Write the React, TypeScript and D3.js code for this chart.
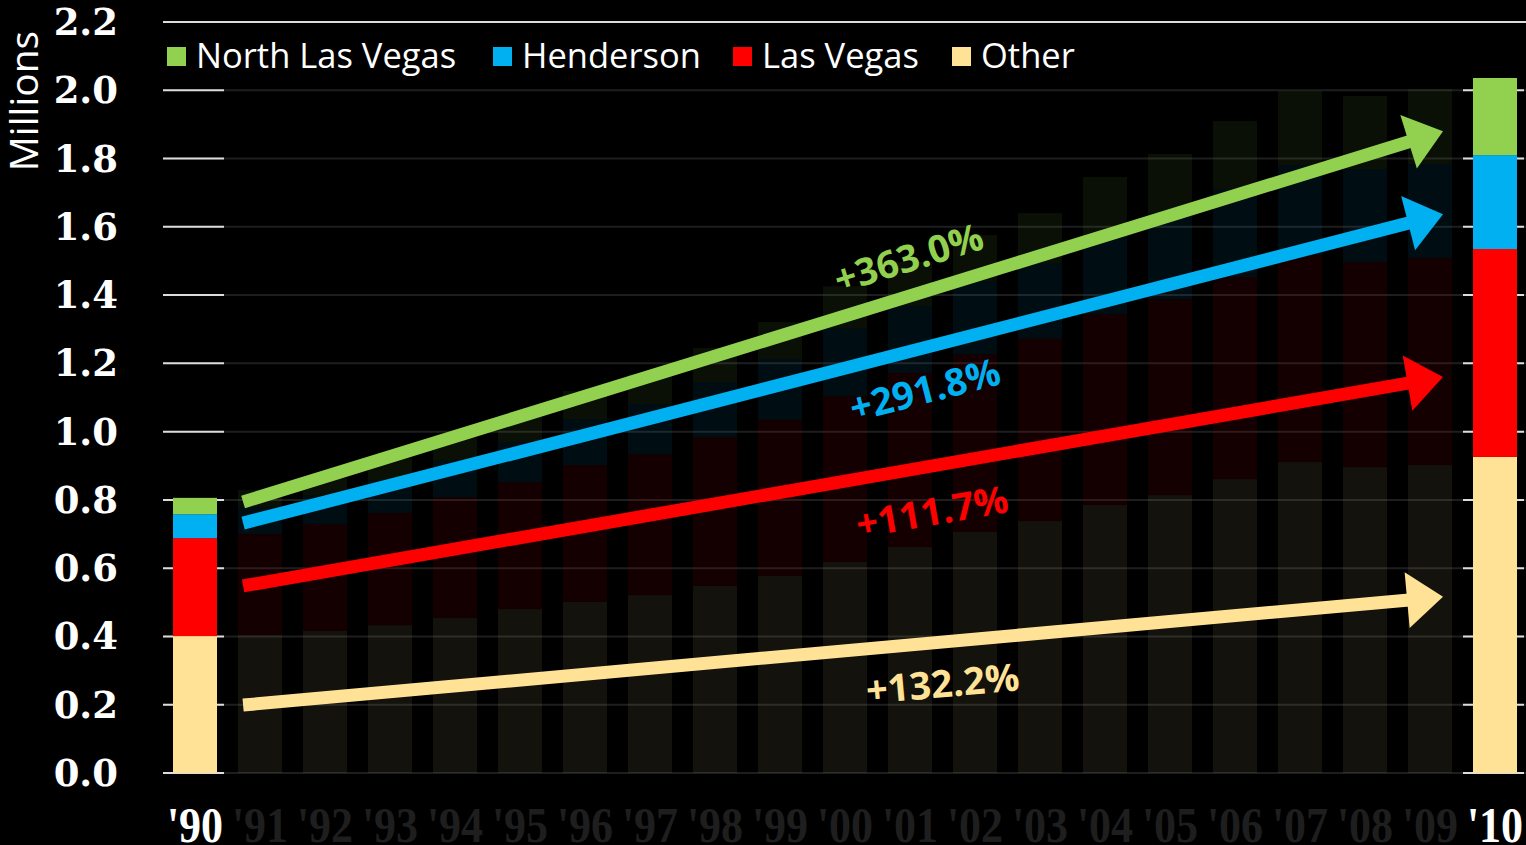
import React from 'react';
import * as d3 from 'd3';

const years = ['90','91','92','93','94','95','96','97','98','99','00','01','02','03','04','05','06','07','08','09','10'];
const other =         [0.401,0.404,0.416,0.433,0.454,0.480,0.501,0.521,0.548,0.577,0.618,0.662,0.706,0.738,0.785,0.814,0.861,0.911,0.896,0.902,0.926];
const lasVegas =      [0.287,0.296,0.313,0.329,0.354,0.372,0.401,0.413,0.436,0.458,0.486,0.510,0.521,0.535,0.559,0.574,0.592,0.606,0.601,0.607,0.609];
const henderson =     [0.070,0.079,0.085,0.096,0.109,0.118,0.135,0.147,0.161,0.178,0.199,0.196,0.214,0.220,0.226,0.252,0.258,0.264,0.272,0.275,0.275];
const northLasVegas = [0.048,0.050,0.050,0.065,0.065,0.074,0.082,0.088,0.100,0.108,0.123,0.129,0.135,0.147,0.176,0.174,0.199,0.217,0.214,0.220,0.226];
const highlighted = ['90','10'];
const yTicks = [0,0.2,0.4,0.6,0.8,1.0,1.2,1.4,1.6,1.8,2.0,2.2];

const seriesKeys = ['other','lasVegas','henderson','northLasVegas'];
const seriesColors: Record<string,string> = { other:'#FFE296', lasVegas:'#FF0000', henderson:'#00B0F0', northLasVegas:'#92D050' };
const legendItems = [
  { key:'northLasVegas', label:'North Las Vegas' },
  { key:'henderson', label:'Henderson' },
  { key:'lasVegas', label:'Las Vegas' },
  { key:'other', label:'Other' },
];
// growth arrows: start/end positions as (year index, value in millions); label position likewise
const arrowKeys =     ['northLasVegas','henderson','lasVegas','other'];
const arrowLabels =   ['+363.0%','+291.8%','+111.7%','+132.2%'];
const arrowStartIdx = 0.74;
const arrowEndIdx = 19.2;
const arrowStartVal = [0.794,0.732,0.548,0.199];
const arrowEndVal =   [1.880,1.637,1.160,0.516];
const labelIdx =      [10.98,11.23,11.34,11.5];
const labelVal =      [1.508,1.122,0.765,0.261];

const W = 1526, H = 845;

export default function App() {
  const table = years.map((yr, i) => ({ year: yr, other: other[i], lasVegas: lasVegas[i], henderson: henderson[i], northLasVegas: northLasVegas[i] }));
  const stack = d3.stack<any>().keys(seriesKeys);
  const stacked = stack(table);
  const y = d3.scaleLinear().domain([0, 2.2]).range([773, 22]);
  const x = d3.scaleBand<string>().domain(years).range([162.5, 1527.5]).paddingInner(0.323).paddingOuter(0.1615);
  const bw = x.bandwidth();
  const xi = d3.scaleLinear().domain([0, years.length - 1]).range([x(years[0])! + bw / 2, x(years[years.length - 1])! + bw / 2]);

  const gridX1 = 163, gridX2 = W;

  return (
    <svg width={W} height={H} style={{ position: 'absolute', left: 0, top: 0, background: '#000' }}>
      <rect x={0} y={0} width={W} height={H} fill="#000" />
      {/* gridlines */}
      {yTicks.map((t) => (
        <line key={'g' + t} x1={gridX1} x2={gridX2} y1={y(t)} y2={y(t)} stroke={t === 2.2 ? '#dcdcdc' : '#1e1e1e'} strokeWidth={2} />
      ))}
      {yTicks.map((t) => highlighted.map((hy) => (
        <line key={'w' + t + hy} x1={x(hy)! - 10} x2={Math.min(W, x(hy)! + bw + 7)} y1={y(t)} y2={y(t)} stroke="#dcdcdc" strokeWidth={2} />
      )))}
      {/* bars */}
      {stacked.map((s) => (
        <g key={s.key} fill={seriesColors[s.key]}>
          {s.map((d: any, i: number) => {
            const hl = highlighted.includes(d.data.year);
            return (
              <rect key={i} x={x(d.data.year)} width={bw} y={y(d[1])} height={y(d[0]) - y(d[1])} fillOpacity={hl ? 1 : 0.08} />
            );
          })}
        </g>
      ))}
      {/* y tick labels */}
      {yTicks.map((t) => (
        <text key={'t' + t} x={118} y={y(t) + 13} textAnchor="end" fill="#fff" fontFamily="'DejaVu Serif', serif" fontWeight={700} fontSize={37}>{t.toFixed(1)}</text>
      ))}
      <text transform="translate(38,101) rotate(-90)" textAnchor="middle" fill="#fff" fontFamily="'Open Sans', sans-serif" fontSize={39}>Millions</text>
      {/* x labels */}
      {years.map((yr) => (
        <text key={'x' + yr} transform={`translate(${x(yr)! + bw / 2},842) scale(1,1.13)`} textAnchor="middle" fill={highlighted.includes(yr) ? '#fff' : '#1e1e1e'} fontFamily="'Liberation Serif', serif" fontWeight={700} fontSize={44}>{"'" + yr}</text>
      ))}
      {/* legend */}
      {(() => {
        const positions = [167, 493, 733, 952];
        return legendItems.map((it, i) => (
          <g key={it.key}>
            <rect x={positions[i]} y={47} width={19} height={19} fill={seriesColors[it.key]} />
            <text x={positions[i] + 29} y={68} fill="#fff" fontFamily="'Open Sans', sans-serif" fontSize={34.5}>{it.label}</text>
          </g>
        ));
      })()}
      {/* arrows */}
      {arrowKeys.map((k, i) => {
        const x0 = xi(arrowStartIdx), y0 = y(arrowStartVal[i]);
        const x1 = xi(arrowEndIdx), y1 = y(arrowEndVal[i]);
        const dx = x1 - x0, dy = y1 - y0;
        const len = Math.hypot(dx, dy);
        const ux = dx / len, uy = dy / len;
        const px = -uy, py = ux;
        const headLen = 36, headHalf = 28;
        const bx = x1 - ux * headLen, by = y1 - uy * headLen;
        const angle = Math.atan2(dy, dx) * 180 / Math.PI;
        const lx = xi(labelIdx[i]), ly = y(labelVal[i]);
        return (
          <g key={'a' + k}>
            <line x1={x0} y1={y0} x2={bx + ux * 2} y2={by + uy * 2} stroke={seriesColors[k]} strokeWidth={13} />
            <polygon points={`${x1},${y1} ${bx + px * headHalf},${by + py * headHalf} ${bx - px * headHalf},${by - py * headHalf}`} fill={seriesColors[k]} />
            <text transform={`translate(${lx},${ly}) rotate(${angle})`} textAnchor="middle" dy="0.35em" fill={seriesColors[k]} fontFamily="'Open Sans', sans-serif" fontWeight={700} fontSize={38}>{arrowLabels[i]}</text>
          </g>
        );
      })}
    </svg>
  );
}
